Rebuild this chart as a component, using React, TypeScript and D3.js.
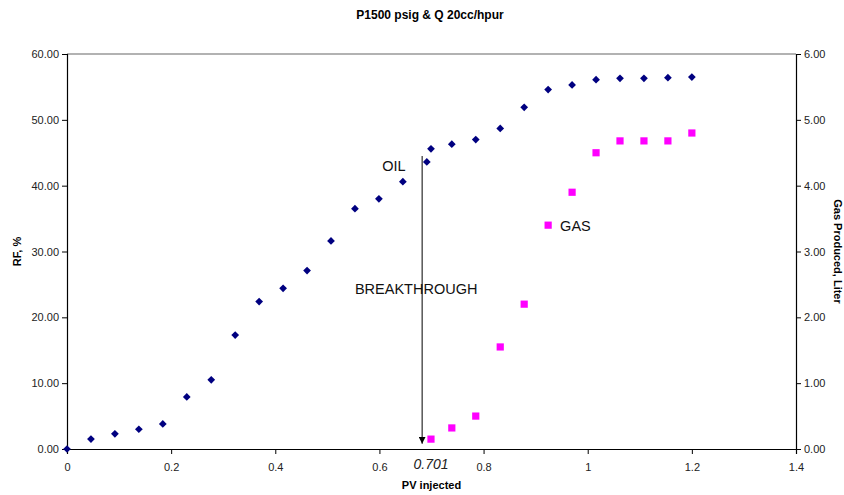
import React, { useRef, useEffect } from 'react'
import * as d3 from 'd3'

// oil recovery factor (left axis)
const oilPV = [0, 0.046, 0.092, 0.138, 0.184, 0.23, 0.277, 0.323, 0.369, 0.415, 0.461, 0.507, 0.553, 0.599, 0.645, 0.691, 0.699, 0.739, 0.785, 0.832, 0.878, 0.924, 0.97, 1.016, 1.062, 1.108, 1.154, 1.2]
const oilRF = [0, 1.5, 2.3, 3.0, 3.8, 7.9, 10.5, 17.3, 22.4, 24.4, 27.1, 31.6, 36.5, 38.0, 40.6, 43.6, 45.6, 46.3, 47.0, 48.7, 51.9, 54.6, 55.3, 56.1, 56.3, 56.3, 56.4, 56.5]

// gas produced (right axis)
const gasPV = [0.699, 0.739, 0.785, 0.832, 0.878, 0.924, 0.97, 1.016, 1.062, 1.108, 1.154, 1.2]
const gasLiter = [0.15, 0.32, 0.5, 1.55, 2.2, 3.4, 3.9, 4.5, 4.68, 4.68, 4.68, 4.8]

const xTicks = [0, 0.2, 0.4, 0.6, 0.8, 1, 1.2, 1.4]
const rfTicks = [0, 10, 20, 30, 40, 50, 60]
const gasTicks = [0, 1, 2, 3, 4, 5, 6]

const breakthroughPV = 0.682
const breakthroughLabel = '0.701'

const App = () => {
    const svgRef = useRef()

    useEffect(() => {
        const svg = d3.select(svgRef.current)
        const width = 844
        const height = 495
        const margin = { top: 54, right: 48, bottom: 46, left: 67 }
        const font = 'Arial, "Liberation Sans", sans-serif'

        svg.selectAll('*').remove()

        const x = d3.scaleLinear().domain([0, 1.4]).range([margin.left, width - margin.right])
        const yL = d3.scaleLinear().domain([0, 60]).range([height - margin.bottom, margin.top])
        const yR = d3.scaleLinear().domain([0, 6]).range([height - margin.bottom, margin.top])

        //top border of plot area
        svg.append('line')
            .attr('x1', x(0)).attr('x2', x(1.4))
            .attr('y1', yL(60)).attr('y2', yL(60))
            .attr('stroke', '#999').attr('stroke-width', 1.5)

        const styleAxis = (g) => {
            g.select('.domain').attr('stroke', '#000').attr('stroke-width', 1.2)
            g.selectAll('.tick line').attr('stroke', '#000')
            g.selectAll('text').style('font-size', '11px').style('font-family', font).attr('fill', '#222')
        }

        //x axis
        svg.append('g')
            .attr('transform', `translate(0, ${yL(0)})`)
            .call(d3.axisBottom(x).tickValues(xTicks).tickFormat((d) => String(+(+d).toFixed(1))).tickSizeOuter(0).tickSize(5).tickPadding(9))
            .call(styleAxis)

        //left axis
        svg.append('g')
            .attr('transform', `translate(${x(0)}, 0)`)
            .call(d3.axisLeft(yL).tickValues(rfTicks).tickFormat(d3.format('.2f')).tickSizeOuter(0).tickSize(5).tickPadding(3))
            .call(styleAxis)

        //right axis
        svg.append('g')
            .attr('transform', `translate(${x(1.4)}, 0)`)
            .call(d3.axisRight(yR).tickValues(gasTicks).tickFormat(d3.format('.2f')).tickSizeOuter(0).tickSize(5).tickPadding(3))
            .call(styleAxis)

        //title
        svg.append('text')
            .attr('x', 430).attr('y', 19)
            .attr('text-anchor', 'middle')
            .style('font-family', font).style('font-size', '12px').style('font-weight', 'bold')
            .text('P1500 psig & Q 20cc/hpur')

        //axis titles
        svg.append('text')
            .attr('x', (x(0) + x(1.4)) / 2).attr('y', 489)
            .attr('text-anchor', 'middle')
            .style('font-family', font).style('font-size', '11px').style('font-weight', 'bold')
            .text('PV injected')

        svg.append('text')
            .attr('transform', `translate(21, ${(yL(0) + yL(60)) / 2}) rotate(-90)`)
            .attr('text-anchor', 'middle')
            .style('font-family', font).style('font-size', '11px').style('font-weight', 'bold')
            .text('RF, %')

        svg.append('text')
            .attr('transform', `translate(834, ${(yL(0) + yL(60)) / 2}) rotate(90)`)
            .attr('text-anchor', 'middle')
            .style('font-family', font).style('font-size', '11px').style('font-weight', 'bold')
            .text('Gas Produced, Liter')

        //oil points (diamonds)
        const diamond = d3.symbol().type(d3.symbolSquare).size(30)
        svg.append('g')
            .selectAll('path')
            .data(oilPV.map((p, i) => [p, oilRF[i]]))
            .enter()
            .append('path')
            .attr('d', diamond)
            .attr('transform', (d) => `translate(${x(d[0])}, ${yL(d[1])}) rotate(45)`)
            .attr('fill', '#000080')

        //gas points (squares)
        const square = d3.symbol().type(d3.symbolSquare).size(52)
        svg.append('g')
            .selectAll('path')
            .data(gasPV.map((p, i) => [p, gasLiter[i]]))
            .enter()
            .append('path')
            .attr('d', square)
            .attr('transform', (d) => `translate(${x(d[0])}, ${yR(d[1])})`)
            .attr('fill', '#FF00FF')

        //breakthrough arrow
        svg.append('defs').append('marker')
            .attr('id', 'arrowhead')
            .attr('viewBox', '0 0 10 10')
            .attr('refX', 10).attr('refY', 5)
            .attr('markerWidth', 7).attr('markerHeight', 7)
            .attr('markerUnits', 'userSpaceOnUse')
            .attr('orient', 'auto')
            .append('path')
            .attr('d', 'M0,0 L10,5 L0,10 Z')
            .attr('fill', '#000')

        svg.append('line')
            .attr('x1', x(breakthroughPV)).attr('x2', x(breakthroughPV))
            .attr('y1', yL(44.5)).attr('y2', yL(0.8))
            .attr('stroke', '#000').attr('stroke-width', 1)
            .attr('marker-end', 'url(#arrowhead)')

        //annotations
        const note = (px, rf, txt, anchor) =>
            svg.append('text')
                .attr('x', x(px)).attr('y', yL(rf))
                .attr('dy', '0.35em')
                .attr('text-anchor', anchor)
                .style('font-family', font).style('font-size', '14.5px')
                .attr('fill', '#111')
                .text(txt)

        note(0.628, 43.0, 'OIL', 'middle')
        note(0.553, 24.3, 'BREAKTHROUGH', 'start')
        note(0.947, 33.9, 'GAS', 'start')

        svg.append('text')
            .attr('x', x(0.699)).attr('y', 469)
            .attr('text-anchor', 'middle')
            .style('font-family', font).style('font-size', '14px').style('font-style', 'italic')
            .attr('fill', '#222')
            .text(breakthroughLabel)
    }, [])

    return (
        <div style={{ position: 'absolute', left: 0, top: 0 }}>
            <svg ref={svgRef} width={844} height={495} style={{ display: 'block', background: '#fff' }} />
        </div>
    )
}

export default App
